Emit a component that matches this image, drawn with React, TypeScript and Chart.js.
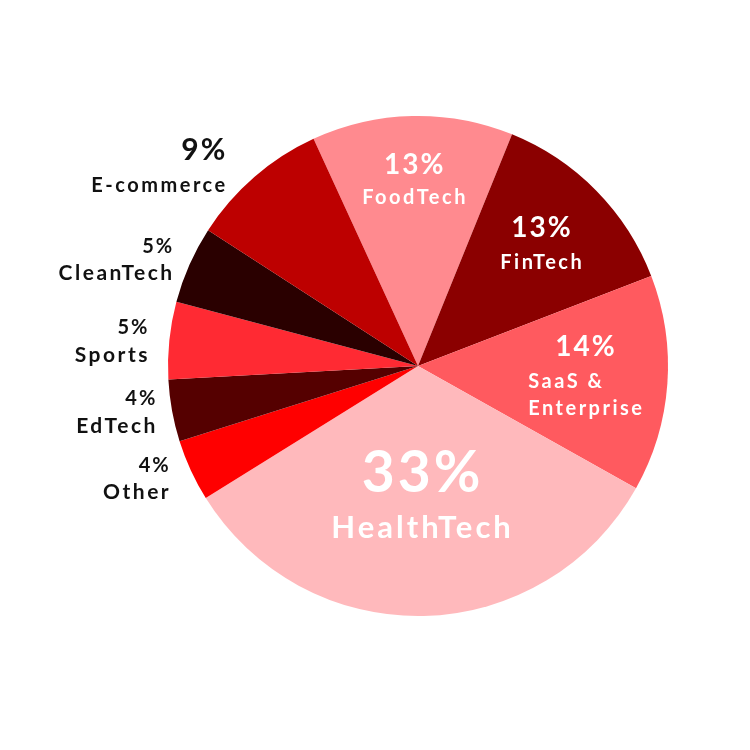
import React, { useEffect, useRef } from "react";
import { Chart, registerables } from "chart.js";

Chart.register(...registerables);

const categories = ["FoodTech", "FinTech", "SaaS &\nEnterprise", "HealthTech", "Other", "EdTech", "Sports", "CleanTech", "E-commerce"];
const shares = [13, 13, 14, 33, 4, 4, 5, 5, 9];
const percentLabels = ["13%", "13%", "14%", "33%", "4%", "4%", "5%", "5%", "9%"];
const sliceColors = ["#FF8A8F", "#8B0000", "#FF5A5F", "#FFB9BC", "#FF0000", "#550000", "#FF2A33", "#2A0000", "#BD0000"];

type LabelStyle = { inside: boolean; radius: number; pct: number; name: number; gap: number; lineGap: number; dx: number; dy: number; ps: number; ns: number };
const labelStyles: LabelStyle[] = [
  { inside: true, radius: 0.74, pct: 28, name: 20, gap: 32, lineGap: 27, dx: 0, dy: 0, ps: 2, ns: 2.5 },
  { inside: true, radius: 0.69, pct: 28, name: 20, gap: 34, lineGap: 27, dx: 0, dy: 0, ps: 2, ns: 2.5 },
  { inside: true, radius: 0.67, pct: 28, name: 20, gap: 35, lineGap: 27, dx: 0, dy: 0, ps: 2, ns: 2.5 },
  { inside: true, radius: 0.54, pct: 57, name: 31, gap: 55, lineGap: 30, dx: 0, dy: 0, ps: 3, ns: 3 },
  { inside: false, radius: 20, pct: 20, name: 21, gap: 27, lineGap: 27, dx: -4, dy: 0, ps: 2, ns: 2.5 },
  { inside: false, radius: 20, pct: 20, name: 21, gap: 27, lineGap: 27, dx: 3, dy: -2, ps: 2, ns: 2.5 },
  { inside: false, radius: 20, pct: 20, name: 21, gap: 28, lineGap: 27, dx: -2, dy: 3, ps: 2, ns: 2.5 },
  { inside: false, radius: 20, pct: 20, name: 21, gap: 27, lineGap: 27, dx: 1, dy: 3, ps: 2, ns: 2.5 },
  { inside: false, radius: 20, pct: 30, name: 20, gap: 35, lineGap: 27, dx: -16, dy: 6, ps: 2, ns: 2.5 },
];

const FONT = "Lato, 'DejaVu Sans', sans-serif";

function drawSpaced(ctx: CanvasRenderingContext2D, text: string, x: number, y: number, spacing: number, align: "left" | "center" | "right") {
  (ctx as any).letterSpacing = `${spacing}px`;
  const w = ctx.measureText(text).width - spacing;
  let lx = x;
  if (align === "center") lx = x - w / 2;
  else if (align === "right") lx = x - w;
  ctx.textAlign = "left";
  ctx.fillText(text, lx, y);
  return w;
}

const labelPlugin = {
  id: "sliceLabels",
  afterDatasetsDraw(chart: any) {
    const ctx: CanvasRenderingContext2D = chart.ctx;
    const meta = chart.getDatasetMeta(0);
    meta.data.forEach((arc: any, i: number) => {
      const st = labelStyles[i];
      const { x, y, startAngle, endAngle, outerRadius } = arc.getProps(["x", "y", "startAngle", "endAngle", "outerRadius"], true);
      const mid = (startAngle + endAngle) / 2;
      const r = st.inside ? outerRadius * st.radius : outerRadius + st.radius;
      const ax = x + Math.cos(mid) * r + st.dx;
      const ay = y + Math.sin(mid) * r + st.dy;
      const names = categories[i].split("\n");
      ctx.save();
      ctx.textBaseline = "middle";
      ctx.fillStyle = st.inside ? "#ffffff" : "#111111";
      const totalH = st.gap + (names.length - 1) * st.lineGap;
      const top = ay - totalH / 2;
      ctx.font = `bold ${st.pct}px ${FONT}`;
      if (st.inside) {
        drawSpaced(ctx, percentLabels[i], ax, top, st.ps, "center");
        ctx.font = `bold ${st.name}px ${FONT}`;
        (ctx as any).letterSpacing = `${st.ns}px`;
        const maxW = Math.max(...names.map((n) => ctx.measureText(n).width - st.ns));
        names.forEach((n, k) => {
          const ly = top + st.gap + k * st.lineGap;
          if (names.length > 1) drawSpaced(ctx, n, ax - maxW / 2, ly, st.ns, "left");
          else drawSpaced(ctx, n, ax, ly, st.ns, "center");
        });
      } else {
        drawSpaced(ctx, percentLabels[i], ax, top, st.ps, "right");
        ctx.font = `bold ${st.name}px ${FONT}`;
        names.forEach((n, k) => drawSpaced(ctx, n, ax, top + st.gap + k * st.lineGap, st.ns, "right"));
      }
      ctx.restore();
    });
  },
};

export default function App() {
  const ref = useRef<HTMLCanvasElement>(null);
  useEffect(() => {
    if (!ref.current) return;
    const chart = new Chart(ref.current, {
      type: "pie",
      data: {
        labels: categories,
        datasets: [{ data: shares, backgroundColor: sliceColors, borderWidth: 0 }],
      },
      options: {
        responsive: false,
        animation: false,
        rotation: -24.7,
        layout: { padding: { left: 168, top: 116, right: 82, bottom: 134 } },
        plugins: { legend: { display: false }, tooltip: { enabled: false } },
      },
      plugins: [labelPlugin],
    });
    return () => chart.destroy();
  }, []);
  return (
    <div style={{ position: "fixed", left: 0, top: 0, width: 750, height: 750, background: "#fff" }}>
      <canvas ref={ref} width={750} height={750} />
    </div>
  );
}
